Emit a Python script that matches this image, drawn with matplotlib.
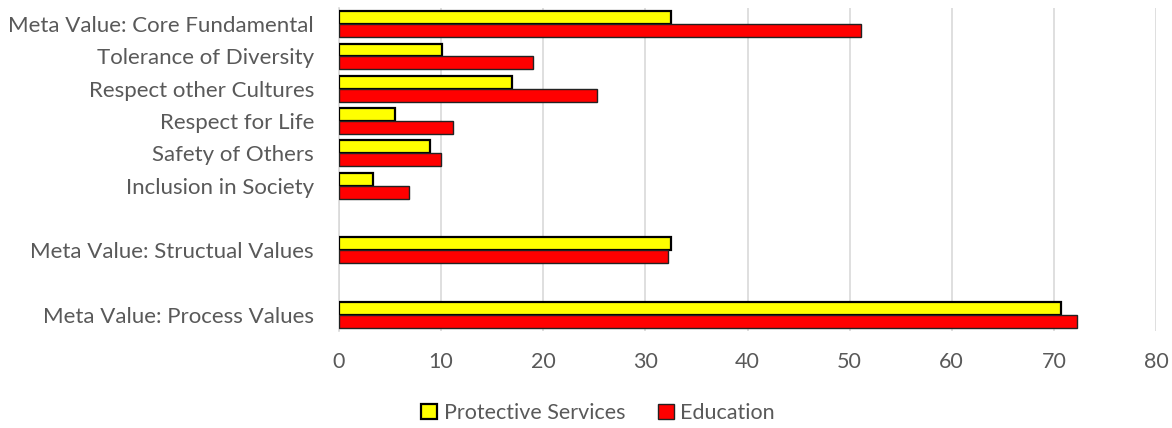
import matplotlib
matplotlib.use("Agg")
import matplotlib.pyplot as plt
import numpy as np

categories = [
    "Meta Value: Core Fundamental",
    "Tolerance of Diversity",
    "Respect other Cultures",
    "Respect for Life",
    "Safety of Others",
    "Inclusion in Society",
    "",
    "Meta Value: Structual Values",
    "",
    "Meta Value: Process Values",
]
protective = [32.5, 10.1, 16.9, 5.5, 8.9, 3.3, np.nan, 32.5, np.nan, 70.7]
education = [51.1, 19.0, 25.3, 11.2, 10.0, 6.9, np.nan, 32.2, np.nan, 72.3]
xticks = [0, 10, 20, 30, 40, 50, 60, 70, 80]

plt.rcParams['font.family'] = ['Lato', 'DejaVu Sans']
text_color = '#595959'

fig = plt.figure(figsize=(11.72, 4.28), dpi=100)
ax = fig.add_axes([339/1172, 1 - 331/428, (1156-339)/1172, (331-8)/428])

y = np.arange(len(categories))
h = 0.4
ax.barh(y - h/2, protective, height=h, color='#FFFF00', edgecolor='black', linewidth=1.6, label='Protective Services', zorder=3)
ax.barh(y + h/2, education, height=h, color='#FF0000', edgecolor='#222222', linewidth=1.0, label='Education', zorder=3)

ax.set_ylim(len(categories) - 0.5, -0.5)
ax.set_xlim(0, 80)
ax.set_xticks(xticks)
ax.set_xticklabels([str(t) for t in xticks])
ax.set_yticks(y)
ax.set_yticklabels(categories)
ax.tick_params(axis='both', length=0, colors=text_color, labelsize=15.5)
ax.tick_params(axis='y', labelsize=16)
ax.tick_params(axis='x', pad=15)
ax.tick_params(axis='y', pad=18)
ax.grid(axis='x', color='#d9d9d9', linewidth=1.2, zorder=0)
for s in ['top', 'right', 'bottom']:
    ax.spines[s].set_visible(False)
ax.spines['left'].set_color('#d9d9d9')
ax.spines['left'].set_linewidth(1.2)

handles, labels = ax.get_legend_handles_labels()
leg = fig.legend(handles, labels, loc='center', bbox_to_anchor=(598/1172, 1 - 413/428), ncol=2,
                 frameon=False, fontsize=15.5, handlelength=0.75, handleheight=0.75,
                 handletextpad=0.3, columnspacing=1.5)
for t in leg.get_texts():
    t.set_color(text_color)

fig.savefig('out.png', dpi=100)
